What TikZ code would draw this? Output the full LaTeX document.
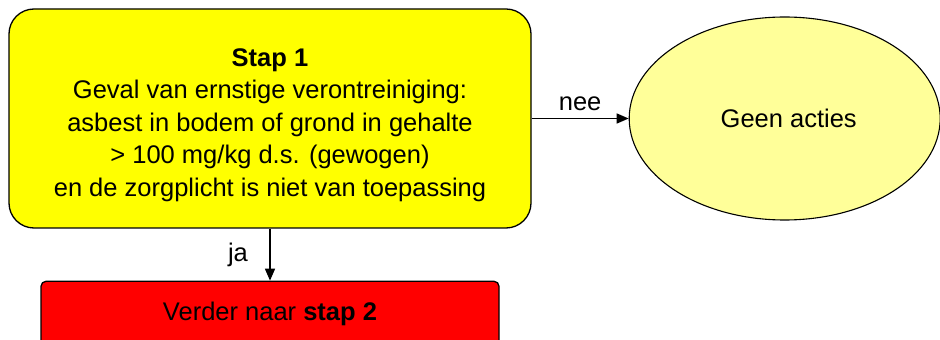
\documentclass[tikz,border=0pt]{standalone}
\usepackage{fontspec}
\setmainfont{Liberation Sans}
\usetikzlibrary{positioning, arrows.meta, shapes.geometric}

\definecolor{stapgeel}{HTML}{FFFF00}
\definecolor{lichtgeel}{HTML}{FFFF99}
\definecolor{staprood}{HTML}{FF0000}

\begin{document}
\begin{tikzpicture}[x=1pt, y=1pt, auto,
    font=\fontsize{25.5}{32.5}\selectfont,
    stapbox/.style={draw, line width=1.3pt, rounded corners=25pt, fill=stapgeel,
        minimum width=522pt, minimum height=219pt, align=center, inner sep=0pt},
    eindnode/.style={draw, ellipse, line width=1.1pt, fill=lichtgeel,
        minimum width=311pt, minimum height=203pt, inner sep=0pt},
    vervolgbox/.style={draw, line width=1.3pt, rounded corners=5pt, fill=staprood,
        minimum width=458pt, minimum height=66pt, inner sep=0pt},
    pijl/.style={-{Triangle[length=12pt, width=10pt]}, line width=1.6pt}]
        \useasboundingbox (0,0) rectangle (940,340);
        \clip (0,0) rectangle (940,340);

        % Define the nodes
        \node[stapbox] (stap1) at (270,221.5) {\rule{0pt}{31pt}\textbf{Stap 1}\\
            Geval van ernstige verontreiniging:\\
            asbest in bodem of grond in gehalte\\
            > 100 mg/kg d.s. (gewogen)\\
            en de zorgplicht is niet van toepassing};
        \node[eindnode] (geen) [right=97pt of stap1] {\hspace{8pt}Geen acties};
        \node[vervolgbox] (stap2) [below=52pt of stap1] {Verder naar \textbf{stap 2}};

        % Define the transitions
        \draw[pijl] (stap1) -- node[above, yshift=4pt] {nee} (geen);
        \draw[pijl] (stap1) -- node[left=18pt] {ja} (stap2);
    \end{tikzpicture}
\end{document}
